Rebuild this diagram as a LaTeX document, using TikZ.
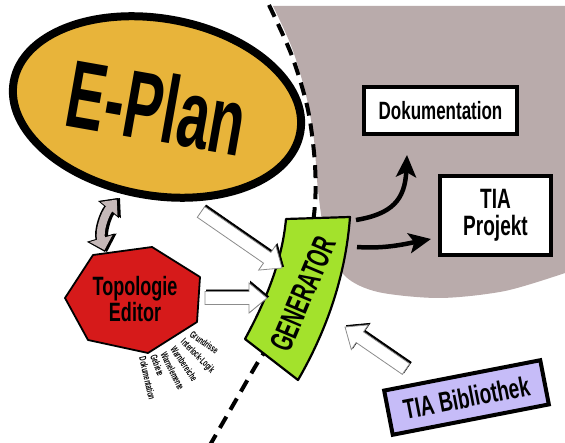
\documentclass[tikz,border=0pt]{standalone}
\usepackage{fontspec}
\newfontfamily\agency{Liberation Sans}[FakeStretch=0.68]
\newfontfamily\agencyN{Liberation Sans}[FakeStretch=0.6]
\usetikzlibrary{calc,arrows.meta,shapes.geometric}
\definecolor{bgray}{HTML}{B9ABAB}
\definecolor{eyellow}{HTML}{E8B43A}
\definecolor{tred}{HTML}{D61A1A}
\definecolor{ggreen}{HTML}{A3E22C}
\definecolor{lav}{HTML}{C6BCF8}
\definecolor{agray}{HTML}{C5B8B8}
\tikzset{
  blockarrow/.style={to path={
    let \p1=($(\tikztotarget)-(\tikztostart)$),
        \n1={atan2(\y1,\x1)},
        \n3={veclen(\x1,\y1)-18pt}
    in ($(\tikztostart)+(\n1+90:6.5pt)$)
    -- ($(\tikztostart)+(\n1+90:6.5pt)+(\n1:\n3)$)
    -- ($(\tikztostart)+(\n1+90:15pt)+(\n1:\n3)$)
    -- (\tikztotarget)
    -- ($(\tikztostart)+(\n1-90:15pt)+(\n1:\n3)$)
    -- ($(\tikztostart)+(\n1-90:6.5pt)+(\n1:\n3)$)
    -- ($(\tikztostart)+(\n1-90:6.5pt)$) -- cycle}},
  bshadow/.style={fill=black, draw=black, line width=0.8pt, transform canvas={xshift=1.5pt,yshift=1.5pt}},
  bbody/.style={fill=white, draw=black!45, line width=0.8pt},
  outbox/.style={draw=black, line width=4pt, fill=white, inner sep=0pt, align=center},
  fanlabel/.style={anchor=west, inner sep=0pt, font=\agencyN\bfseries\fontsize{10}{10}\selectfont},
  thickarrow/.style={line width=4.5pt, -{Stealth[length=22pt,width=20pt,inset=5pt]}},
}
\begin{document}
\begin{tikzpicture}[x=1pt,y=-1pt]
\useasboundingbox (0,0) rectangle (565,443);
% grey region
\fill[bgray] plot[smooth] coordinates {(273,6) (292,48) (306,95) (314,140) (318,190) (326,240) (345,276) (378,292) (440,298) (505,291) (565,273)} -- (565,6) -- cycle;
% dashed border
\draw[line width=4pt, dash pattern=on 13pt off 8pt] plot[smooth] coordinates {(269,5) (292,56) (308,110) (315,165) (314,215) (300,290) (276,335) (258,362) (236,400) (210,445)};
% E-Plan
\node[ellipse, draw=black, line width=8pt, fill=eyellow, minimum width=291pt, minimum height=177pt, rotate=-10,
  font=\agencyN\bfseries\fontsize{96}{96}\selectfont] (eplan) at (157,107) {E-Plan};
% generator
\filldraw[fill=ggreen, draw=black, line width=2.2pt, line join=round]
  (286,219) -- (350,217) .. controls (345.7,275.1) and (327.2,329.6) .. (298,380)
  -- (245,339) .. controls (265.6,301.1) and (282,261.9) .. cycle;
\node[rotate=67, inner sep=0pt, font=\agencyN\bfseries\fontsize{32}{32}\selectfont] (gen) at (303,294) {GENERATOR};
% topology editor
\filldraw[fill=tred, draw=black, line width=1.8pt, line join=round]
  (65,298) -- (93,255) -- (152,247) -- (200,277) -- (197,322) -- (148,353) -- (88,340) -- cycle;
\node[align=center, inner sep=0pt, font=\agency\bfseries\fontsize{26.5}{23}\selectfont] (topo) at (135,299) {Topologie\\Editor};
% fan labels
\node[fanlabel, rotate=-35] (l1) at (191,333) {Grundrisse};
\node[fanlabel, rotate=-45] (l2) at (182,341) {Interlock-Logik};
\node[fanlabel, rotate=-56] (l3) at (173,347.5) {Warnbereiche};
\node[fanlabel, rotate=-64] (l4) at (163.5,352.5) {Warnelemente};
\node[fanlabel, rotate=-70] (l5) at (153.5,355) {Gebiete};
\node[fanlabel, rotate=-77] (l6) at (142.5,357) {Dokumentation};
% boxes
\node[outbox, minimum width=153pt, minimum height=47pt, font=\agency\bfseries\fontsize{25}{25}\selectfont] (doku) at (440.5,110.5) {Dokumentation};
\node[outbox, minimum width=111pt, minimum height=79pt, font=\agency\bfseries\fontsize{28}{27}\selectfont] (proj) at (495.5,215.5) {TIA\\Projekt};
\node[outbox, fill=lav, rotate=11, minimum width=159pt, minimum height=45pt, font=\agency\bfseries\fontsize{28}{28}\selectfont] (bib) at (466.5,397.5) {TIA Bibliothek};
% block arrows
\coordinate (a1s) at (201,212); \coordinate (a1e) at (282,268);
\coordinate (a2s) at (205,298); \coordinate (a2e) at (267,298);
\coordinate (a3s) at (406,369); \coordinate (a3e) at (345,327);
\draw[bshadow] (a1s) to[blockarrow] (a1e);
\draw[bbody] (a1s) to[blockarrow] (a1e);
\draw[bshadow] (a2s) to[blockarrow] (a2e);
\draw[bbody] (a2s) to[blockarrow] (a2e);
\draw[bshadow] (a3s) to[blockarrow] (a3e);
\draw[bbody] (a3s) to[blockarrow] (a3e);
% thick arrows from generator
\coordinate (g1) at (356,220); \coordinate (dtip) at (407,155);
\coordinate (g2) at (357,247); \coordinate (ptip) at (431,239);
\draw[thickarrow] (g1) .. controls (392,214) and (405,200) .. (dtip);
\draw[thickarrow] (g2) .. controls (385,249) and (405,244) .. (ptip);
% double curved arrow
\coordinate (dT) at (118,198); \coordinate (dB) at (105,252);
\draw[line width=11pt, black, transform canvas={xshift=2pt},
  {Triangle[length=15pt,width=26pt]}-{Triangle[length=15pt,width=28pt]}]
  (dT) .. controls (104,215) and (99,232) .. (dB);
\draw[line width=11pt, black,
  {Triangle[length=15pt,width=26pt]}-{Triangle[length=15pt,width=28pt]}]
  (dT) .. controls (104,215) and (99,232) .. (dB);
\draw[line width=8pt, agray, shorten <=2pt, shorten >=2pt,
  {Triangle[length=12pt,width=21pt]}-{Triangle[length=12pt,width=23pt]}]
  (dT) .. controls (104,215) and (99,232) .. (dB);
\end{tikzpicture}
\end{document}
